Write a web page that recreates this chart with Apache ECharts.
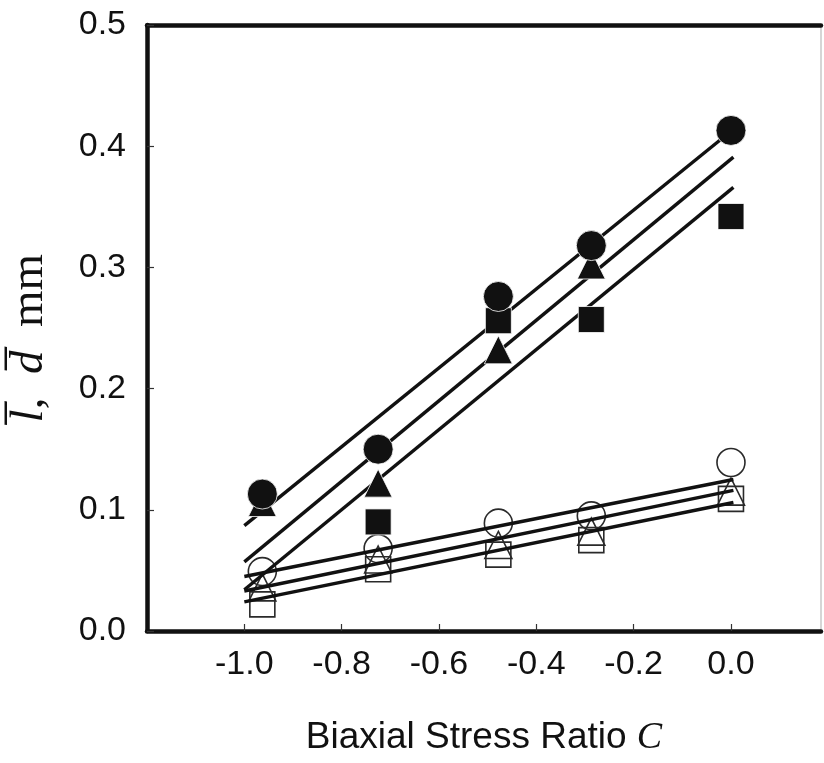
<!DOCTYPE html>
<html>
<head>
<meta charset="utf-8">
<script src="https://cdn.jsdelivr.net/npm/echarts@6/dist/echarts.min.js"></script>
<style>
  html, body { margin: 0; padding: 0; background: #fff; }
  #chart { width: 824px; height: 763px; }
</style>
</head>
<body>
<div id="chart"></div>
<script>
// Biaxial stress ratio positions of the measured columns
const stressRatio = [-0.963, -0.725, -0.478, -0.287, 0.0];

// Filled symbols (mm)
const filledCircle   = [0.113, 0.150, 0.276, 0.318, 0.413];
const filledTriangle = [0.106, 0.122, 0.232, 0.302, null];
const filledSquare   = [null, 0.090, 0.256, 0.257, 0.342];

// Open symbols (mm)
const openCircle   = [0.049, 0.068, 0.089, 0.095, 0.139];
const openTriangle = [0.036, 0.059, 0.071, 0.082, 0.115];
const openSquare   = [0.022, 0.051, 0.063, 0.075, 0.109];

// Straight-line fits: values at both ends of fitX
const fitX = [-1.0, 0.005];
const fitFilledCircle   = [0.087, 0.414];
const fitFilledTriangle = [0.057, 0.391];
const fitFilledSquare   = [0.034, 0.366];
const fitOpenCircle     = [0.045, 0.125];
const fitOpenTriangle   = [0.033, 0.116];
const fitOpenSquare     = [0.024, 0.106];

// Axis tick values
const xTicks = [-1.0, -0.8, -0.6, -0.4, -0.2, 0.0];
const yTicks = [0.0, 0.1, 0.2, 0.3, 0.4, 0.5];

const pairs = (xs, ys) => xs.map((x, i) => [x, ys[i]]).filter(p => p[1] !== null);

const SANS = "'Liberation Sans', Arial, sans-serif";
const SERIF = "'Liberation Serif', 'Times New Roman', serif";

function scatter(name, symbol, size, values, filled, z) {
  return {
    name, type: 'scatter', symbol, symbolSize: size, z,
    data: pairs(stressRatio, values),
    itemStyle: filled
      ? { color: '#111', borderColor: '#fff', borderWidth: 0.8, opacity: 1 }
      : { color: 'rgba(0,0,0,0)', borderColor: '#2a2a2a', borderWidth: 1.6, opacity: 1 },
    emphasis: { disabled: true }
  };
}

function fitLine(name, values) {
  return {
    name, type: 'line', symbol: 'none', z: 3,
    data: pairs(fitX, values),
    lineStyle: { color: '#111', width: 3.4 },
    emphasis: { disabled: true }
  };
}

const chart = echarts.init(document.getElementById('chart'), null, { renderer: 'canvas' });

chart.setOption({
  backgroundColor: '#fff',
  animation: false,
  grid: { left: 147, right: 3, top: 25, bottom: 132, containLabel: false },
  xAxis: [{
    type: 'value', min: -1.2, max: 0.185, interval: 0.2,
    splitLine: { show: false },
    axisLine: { show: true, onZero: false, lineStyle: { color: '#111', width: 4.5 } },
    axisTick: { show: true, inside: true, length: 7, customValues: xTicks, lineStyle: { color: '#333', width: 1.2 } },
    axisLabel: {
      customValues: xTicks, margin: 17, color: '#111',
      fontFamily: SANS, fontSize: 34,
      formatter: v => v.toFixed(1)
    },
    name: '{t|Biaxial Stress Ratio }{c|C}',
    nameLocation: 'middle', nameGap: 88,
    nameTextStyle: {
      rich: {
        t: { fontFamily: SANS, fontSize: 37, color: '#111' },
        c: { fontFamily: SERIF, fontStyle: 'italic', fontSize: 38, color: '#111' }
      }
    }
  }, {
    type: 'value', position: 'top', min: -1.2, max: 0.185,
    splitLine: { show: false }, axisTick: { show: false }, axisLabel: { show: false },
    axisLine: { show: true, onZero: false, lineStyle: { color: '#111', width: 4.5 } }
  }],
  yAxis: [{
    type: 'value', min: 0, max: 0.5, interval: 0.1,
    splitLine: { show: false },
    axisLine: { show: true, onZero: false, lineStyle: { color: '#111', width: 4.5 } },
    axisTick: { show: true, inside: true, length: 7, customValues: yTicks, lineStyle: { color: '#333', width: 1.2 } },
    axisLabel: {
      margin: 21, color: '#111',
      fontFamily: SANS, fontSize: 34,
      formatter: v => v.toFixed(1)
    }
  }, {
    type: 'value', position: 'right', min: 0, max: 0.5,
    splitLine: { show: false }, axisTick: { show: false }, axisLabel: { show: false },
    axisLine: { show: true, onZero: false, lineStyle: { color: '#c8c8c8', width: 1.5 } }
  }],
  graphic: [{
    type: 'text', left: 6, top: 254, rotation: Math.PI / 2,
    style: {
      text: '{i|l\u0305}{n|,  }{i|d\u0305}{n|  mm}',
      rich: {
        i: { fontFamily: SERIF, fontStyle: 'italic', fontSize: 47, fill: '#111' },
        n: { fontFamily: SERIF, fontSize: 47, fill: '#111' }
      }
    }
  }],
  series: [
    scatter('open circle', 'circle', 28, openCircle, false, 2),
    scatter('open triangle', 'triangle', 27, openTriangle, false, 2),
    scatter('open square', 'rect', 25, openSquare, false, 2),
    fitLine('fit open circle', fitOpenCircle),
    fitLine('fit open triangle', fitOpenTriangle),
    fitLine('fit open square', fitOpenSquare),
    fitLine('fit filled circle', fitFilledCircle),
    fitLine('fit filled triangle', fitFilledTriangle),
    fitLine('fit filled square', fitFilledSquare),
    scatter('filled square', 'rect', 26, filledSquare, true, 4),
    scatter('filled triangle', 'triangle', 28, filledTriangle, true, 5),
    scatter('filled circle', 'circle', 30, filledCircle, true, 6)
  ]
});
</script>
</body>
</html>
